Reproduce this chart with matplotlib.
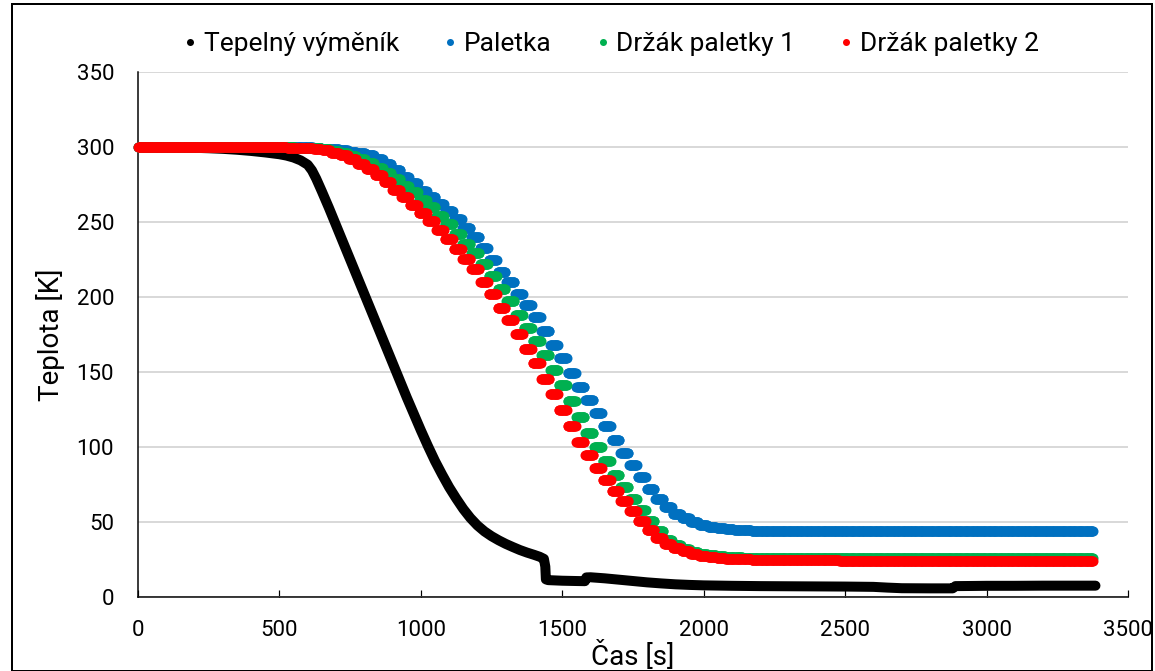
import numpy as np
import matplotlib
matplotlib.use("Agg")
import matplotlib.pyplot as plt
from matplotlib.lines import Line2D
from matplotlib.patches import Rectangle

plt.rcParams['font.family'] = ['Roboto', 'DejaVu Sans']

# ---- data -------------------------------------------------------------
# Logged temperatures of the three holder parts: one value per 31 s record
step_s = 31
hold_s = 28

paletka = [
    300.0, 300.0, 300.0, 300.0, 300.0, 300.0, 300.0, 300.0, 300.0, 300.0,
    300.0, 300.0, 300.0, 300.0, 300.0, 300.0, 300.0, 300.0, 299.9, 299.8,
    299.5, 299.1, 298.6, 297.9, 297.0, 296.0, 294.9, 292.2, 288.6, 284.6,
    280.3, 275.8, 271.0, 266.7, 262.4, 257.5, 252.2, 246.3, 239.8, 232.5,
    224.5, 216.8, 209.8, 202.0, 194.8, 186.5, 177.5, 168.2, 159.1, 149.1,
    139.8, 131.0, 122.3, 113.6, 104.6, 95.9, 87.8, 79.8, 71.8, 65.0,
    59.5, 55.2, 52.3, 49.6, 47.8, 46.6, 45.7, 45.1, 44.6, 44.3,
    44.1, 44.0, 43.9, 43.9, 43.9, 43.8, 43.8, 43.8, 43.8, 43.8,
    43.8, 43.8, 43.8, 43.8, 43.8, 43.8, 43.8, 43.8, 43.8, 43.8,
    43.8, 43.8, 43.8, 43.8, 43.8, 43.8, 43.8, 43.8, 43.8, 43.8,
    43.8, 43.8, 43.8, 43.8, 43.8, 43.8, 43.8, 43.8, 43.8,
]

drzak_1 = [
    300.0, 300.0, 300.0, 300.0, 300.0, 300.0, 300.0, 300.0, 300.0, 300.0,
    300.0, 300.0, 300.0, 300.0, 300.0, 300.0, 300.0, 299.8, 299.7, 299.5,
    299.2, 298.5, 297.4, 296.0, 294.2, 292.0, 289.3, 286.2, 282.6, 278.6,
    274.3, 269.8, 265.0, 259.8, 254.3, 248.5, 242.3, 235.7, 229.2, 222.3,
    214.0, 205.5, 197.0, 188.3, 179.3, 170.5, 161.5, 151.4, 141.2, 130.5,
    119.8, 109.5, 99.8, 90.5, 81.5, 73.2, 65.2, 57.5, 50.2, 43.8,
    38.0, 34.2, 31.6, 29.8, 28.5, 27.6, 27.0, 26.5, 26.2, 26.0,
    25.9, 25.8, 25.7, 25.7, 25.7, 25.6, 25.6, 25.6, 25.6, 25.6,
    25.6, 25.6, 25.6, 25.6, 25.6, 25.6, 25.6, 25.6, 25.6, 25.6,
    25.6, 25.6, 25.6, 25.6, 25.6, 25.6, 25.6, 25.6, 25.6, 25.6,
    25.6, 25.6, 25.6, 25.6, 25.6, 25.6, 25.6, 25.6, 25.6,
]

drzak_2 = [
    300.0, 300.0, 300.0, 300.0, 300.0, 300.0, 300.0, 300.0, 300.0, 300.0,
    300.0, 300.0, 300.0, 300.0, 300.0, 300.0, 299.9, 299.7, 299.5, 299.2,
    298.8, 297.8, 296.3, 294.5, 292.0, 288.8, 285.5, 281.5, 276.5, 271.3,
    266.5, 261.5, 256.2, 250.5, 244.8, 238.7, 232.0, 225.2, 218.4, 210.3,
    201.7, 192.8, 184.4, 175.3, 165.5, 155.9, 145.5, 135.0, 124.5, 113.8,
    103.5, 94.5, 86.0, 78.0, 70.5, 63.5, 57.0, 50.5, 44.3, 39.0,
    35.2, 32.2, 30.2, 28.5, 27.3, 26.3, 25.7, 25.3, 25.0, 24.8,
    24.6, 24.5, 24.4, 24.3, 24.2, 24.2, 24.1, 24.1, 24.1, 24.1,
    24.0, 24.0, 24.0, 24.0, 24.0, 24.0, 24.0, 24.0, 24.0, 24.0,
    24.0, 24.0, 24.0, 24.0, 24.0, 24.0, 24.0, 24.0, 24.0, 24.0,
    24.0, 24.0, 24.0, 24.0, 24.0, 24.0, 24.0, 24.0, 24.0,
]

# Heat exchanger: finely logged
vymenik_t = [
    0, 50, 100, 150, 200, 250, 300, 350, 400, 450, 500, 525, 550, 575,
    600, 615, 630, 650, 675, 700, 725, 750, 775, 800, 825, 850, 875, 900,
    925, 950, 975, 1000, 1025, 1050, 1075, 1100, 1125, 1150, 1175, 1200,
    1225, 1250, 1275, 1300, 1325, 1350, 1375, 1400, 1420, 1435, 1440, 1442,
    1450, 1500, 1550, 1580, 1585, 1600, 1650, 1700, 1750, 1800, 1850, 1900,
    1950, 2000, 2100, 2200, 2300, 2400, 2500, 2600, 2650, 2700, 2800, 2880,
    2890, 2950, 3000, 3100, 3200, 3300, 3385,
]
vymenik_T = [
    300.0, 300.0, 299.9, 299.8, 299.6, 299.3, 298.9, 298.3, 297.5, 296.5,
    295.3, 294.4, 293.1, 291.2, 288.3, 284.5, 279.0, 270.5, 259.5, 248.0,
    236.5, 225.0, 213.5, 202.0, 190.5, 179.0, 167.5, 156.0, 144.5, 133.0,
    122.0, 111.0, 100.5, 90.5, 81.5, 73.0, 65.5, 58.5, 52.5, 47.5,
    43.5, 40.3, 37.6, 35.2, 33.1, 31.1, 29.4, 27.9, 26.6, 25.2, 20.0, 11.5,
    11.0, 10.6, 10.4, 10.3, 12.8, 12.9, 12.2, 11.3, 10.4, 9.5, 8.8, 8.2,
    7.8, 7.5, 7.2, 7.0, 6.9, 6.8, 6.7, 6.5, 6.0, 5.6, 5.5, 5.5,
    7.0, 7.1, 7.2, 7.2, 7.3, 7.3, 7.3,
]

labels = ["Tepelný výměník", "Paletka", "Držák paletky 1", "Držák paletky 2"]
colors = ["#000000", "#0070C0", "#00B050", "#FF0000"]

# ---- figure -----------------------------------------------------------
W, H = 1155, 671
fig = plt.figure(figsize=(W / 100, H / 100), dpi=100)
fig.patch.set_facecolor("white")

x0, x1 = 138, 1128
y_top, y_bot = 72.3, 596.6
ax = fig.add_axes([x0 / W, 1 - y_bot / H, (x1 - x0) / W, (y_bot - y_top) / H])

px = 0.72  # points per pixel
ax.set_xlim(0, 3500)
ax.set_ylim(0, 350)
ax.set_xticks(np.arange(0, 3501, 500))
ax.set_yticks(np.arange(0, 351, 50))
ax.grid(axis="y", color="#d9d9d9", linewidth=2 * px)
ax.set_axisbelow(True)
for side in ("top", "right"):
    ax.spines[side].set_visible(False)
for side in ("bottom", "left"):
    ax.spines[side].set_color("black")
    ax.spines[side].set_linewidth(1.5 * px)
ax.tick_params(axis="x", direction="in", length=7 * px, width=1.2 * px,
               labelsize=16, pad=23 * px)
ax.tick_params(axis="y", length=0, labelsize=16, pad=24 * px)

ax.set_xlabel("Čas [s]", fontsize=20, labelpad=0)
ax.set_ylabel("Teplota [K]", fontsize=20, labelpad=8)

# heat exchanger as a thick dense band
ax.plot(vymenik_t, vymenik_T, color=colors[0], linewidth=10 * px,
        solid_capstyle="round", solid_joinstyle="round", zorder=2)

# stepped records: each record is held for hold_s seconds
def step_points(values):
    ts, vs = [], []
    for k, v in enumerate(values):
        t = k * step_s + np.arange(0, hold_s + 1, 2)
        ts.append(t)
        vs.append(np.full(t.shape, v))
    return np.concatenate(ts), np.concatenate(vs)

for vals, col, z in ((paletka, colors[1], 3), (drzak_1, colors[2], 4),
                     (drzak_2, colors[3], 5)):
    t, v = step_points(vals)
    ax.plot(t, v, linestyle="none", marker="o", markersize=10 * px,
            markeredgewidth=0, color=col, zorder=z, clip_on=False)

handles = [Line2D([], [], linestyle="none", marker="o", markersize=7 * px,
                  markeredgewidth=0, color=c) for c in colors]
fig.legend(handles, labels, loc="center", bbox_to_anchor=(0.528, 1 - 44 / H),
           ncol=4, frameon=False, fontsize=19, handletextpad=0.15,
           columnspacing=1.6, handlelength=0.7)

# chart area border
fig.patches.append(Rectangle((12 / W, 0), (W - 15) / W, 1 - 4 / H,
                             transform=fig.transFigure, fill=False,
                             edgecolor="black", linewidth=2 * px))

fig.savefig("out.png", dpi=100)
